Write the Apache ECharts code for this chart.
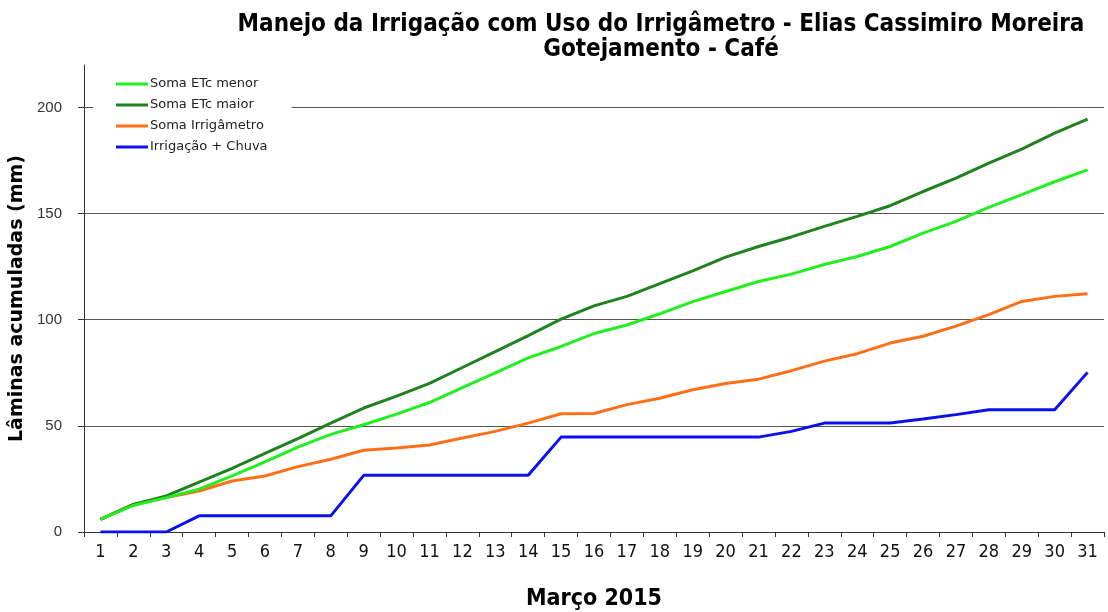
<!DOCTYPE html>
<html>
<head>
<meta charset="utf-8">
<script src="https://cdn.jsdelivr.net/npm/echarts@6/dist/echarts.min.js"></script>
<style>
html,body{margin:0;padding:0;background:#fff;}
#chart{width:1108px;height:612px;}
</style>
</head>
<body>
<div id="chart"></div>
<script>
const days = ['1','2','3','4','5','6','7','8','9','10','11','12','13','14','15','16','17','18','19','20','21','22','23','24','25','26','27','28','29','30','31'];
const etcMenor = [6,12.5,16.2,20.2,26.4,33,40,46,50.5,55.5,61,68,75,82,87.4,93.5,97.5,102.8,108.5,113.3,118,121.5,126,129.8,134.5,140.8,146.3,152.9,158.9,165,170.6];
const etcMaior = [6,13,17,23.5,30,37,44,51.3,58.4,64,70,77.5,85,92.5,100.3,106.5,111,117,123,129.5,134.5,139,144,148.7,153.7,160.4,166.7,173.8,180.4,187.9,194.5];
const irrigametro = [6,13,16.2,19.3,24,26.4,30.8,34.3,38.5,39.6,41,44.3,47.4,51.3,55.7,55.8,60,63,67,70,72,76,80.5,84,89,92.2,97,102.4,108.6,111,112.2];
const irrigChuva = [0,0,0,7.6,7.6,7.6,7.6,7.6,26.7,26.7,26.7,26.7,26.7,26.7,44.7,44.7,44.7,44.7,44.7,44.7,44.7,47.4,51.3,51.3,51.3,53.2,55.3,57.6,57.6,57.6,75.2];
const yTicks = [0,50,100,150,200];
const seriesNames = ['Soma ETc menor','Soma ETc maior','Soma Irrigâmetro','Irrigação + Chuva'];
const colors = ['#22ee22','#1f821f','#ff6f17','#0b10ee'];

const narrow = "'Liberation Sans Narrow','Arial Narrow','DejaVu Sans Condensed',sans-serif";
const chart = echarts.init(document.getElementById('chart'), null, {renderer:'canvas'});
const dataSets = [etcMenor, etcMaior, irrigametro, irrigChuva];
chart.setOption({
  animation:false,
  backgroundColor:'#fff',
  title:{
    text:'Manejo da Irrigação com Uso do Irrigâmetro - Elias Cassimiro Moreira\nGotejamento - Café',
    left:656, top:7, textAlign:'center',
    textStyle:{fontFamily:narrow, fontWeight:'bold', fontSize:24, lineHeight:25, color:'#000'}
  },
  legend:{
    orient:'vertical', left:93, top:68,
    padding:[8,24,8,23], itemGap:5,
    backgroundColor:'#fff',
    icon:'rect', itemWidth:32, itemHeight:3,
    textStyle:{fontFamily:"'DejaVu Sans',sans-serif", fontSize:13, lineHeight:16, color:'#222', padding:[0,0,0,-3]},
    data:seriesNames
  },
  grid:{left:84, right:4, top:65, bottom:80, containLabel:false, outerBoundsMode:'none'},
  xAxis:{
    type:'category', data:days, boundaryGap:true,
    name:'Março 2015', nameLocation:'middle', nameGap:56,
    nameTextStyle:{fontFamily:narrow, fontWeight:'bold', fontSize:23, color:'#000'},
    axisLine:{lineStyle:{color:'#333', width:1}},
    axisTick:{show:true, length:5, lineStyle:{color:'#333'}},
    axisLabel:{fontFamily:narrow, fontSize:18, color:'#111', margin:11, interval:0}
  },
  yAxis:{
    type:'value', min:0, max:220, interval:50,
    name:'Lâminas acumuladas (mm)', nameLocation:'middle', nameGap:53,
    nameTextStyle:{fontFamily:"'DejaVu Sans',sans-serif", fontWeight:'bold', fontSize:19, color:'#000'},
    axisLine:{show:true, lineStyle:{color:'#333', width:1}},
    axisTick:{show:true, length:6, lineStyle:{color:'#333'}, customValues:yTicks},
    axisLabel:{fontFamily:"'Liberation Sans',Arial,sans-serif", fontSize:15, color:'#333', margin:22, customValues:yTicks},
    splitLine:{show:true, lineStyle:{color:'#555', width:1}}
  },
  series: seriesNames.map((n,i)=>({
    name:n, type:'line', data:dataSets[i], symbol:'none', smooth:false,
    lineStyle:{color:colors[i], width:3}, itemStyle:{color:colors[i]},
    z: 10 - i
  }))
});
</script>
</body>
</html>
